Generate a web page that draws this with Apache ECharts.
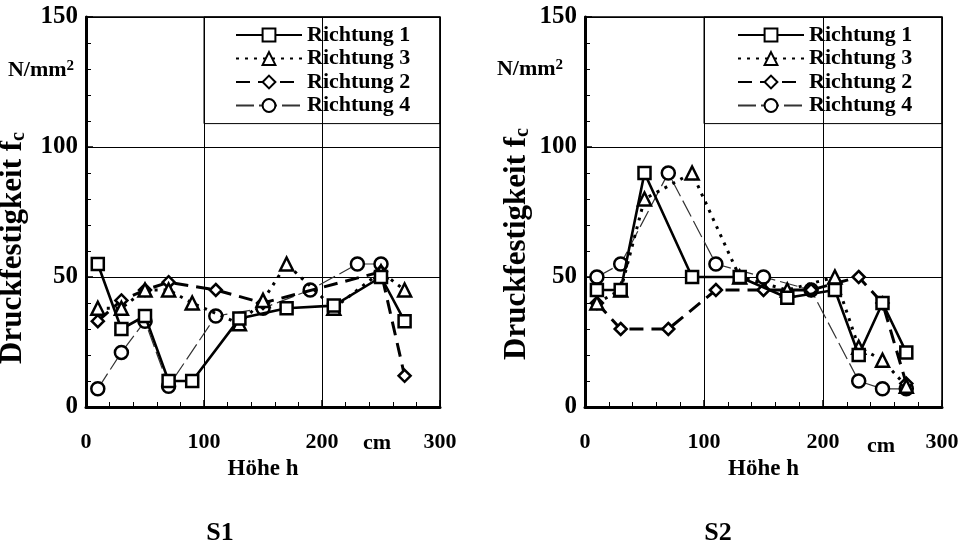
<!DOCTYPE html>
<html><head><meta charset="utf-8">
<script src="https://cdn.jsdelivr.net/npm/echarts@6/dist/echarts.min.js"></script>
<style>html,body{margin:0;padding:0;background:#fff}#c{width:967px;height:549px}</style>
</head><body><div id="c"></div>
<script>
// ---- data (S1) ----
const s1_r1_h = [10,30,50,70,90,130,170,210,250,270];
const s1_r1_v = [55,30,35,10,10,34,38,39,50,33];
const s1_r3_h = [10,30,50,70,90,130,150,170,210,250,270];
const s1_r3_v = [38,38,45,45,40,32,41,55,38,52,45];
const s1_r2_h = [10,30,50,70,110,150,250,270];
const s1_r2_v = [33,41,45,48,45,40,52,12];
const s1_r4_h = [10,30,50,70,110,150,190,230,250];
const s1_r4_v = [7,21,33,8,35,38,45,55,55];
// ---- data (S2) ----
const s2_r1_h = [10,30,50,90,130,170,210,230,250,270];
const s2_r1_v = [45,45,90,50,50,42,45,20,40,21];
const s2_r3_h = [10,30,50,90,130,170,210,230,250,270];
const s2_r3_v = [40,45,80,90,50,45,50,23,18,8];
const s2_r2_h = [10,30,70,110,150,190,230,250,270];
const s2_r2_v = [40,30,30,45,45,45,50,40,9];
const s2_r4_h = [10,30,70,110,150,190,230,250,270];
const s2_r4_v = [50,55,90,55,50,45,10,7,7];
const seriesNames = ['Richtung 1','Richtung 3','Richtung 2','Richtung 4'];
const xTicks = [0,100,200,300];
const yTicks = [0,50,100,150];
const legendBox = [100,109,300,150];

const zip = (h,v) => h.map((x,i)=>[x,v[i]]);
const FONT = 'Liberation Serif';
const styles = [
  {symbol:'rect', symbolSize:12, lineStyle:{type:'solid', width:2.6, color:'#000'}},
  {symbol:'triangle', symbolSize:13, lineStyle:{type:[3,6], width:3, color:'#000'}},
  {symbol:'diamond', symbolSize:12, lineStyle:{type:[14,8], width:3, color:'#000'}},
  {symbol:'circle', symbolSize:13, lineStyle:{type:[18,5], width:1.2, color:'#333'}}
];
function mkSeries(idx, sets){
  return sets.map((d,i)=>{
    const s = {
      name: seriesNames[i], type:'line', xAxisIndex:idx, yAxisIndex:idx,
      data: zip(d[0], d[1]), symbol: styles[i].symbol, symbolSize: styles[i].symbolSize,
      lineStyle: styles[i].lineStyle,
      itemStyle: {color:'#fff', borderColor:'#000', borderWidth:2.5},
      emphasis:{disabled:true}, animation:false, z: 5 - i
    };
    if(i===0){
      s.markArea = {silent:true, label:{show:false},
        itemStyle:{color:'rgba(0,0,0,0)', borderColor:'#000', borderWidth:1},
        data:[[{xAxis:legendBox[0], yAxis:legendBox[1]},{xAxis:legendBox[2], yAxis:legendBox[3]}]]};
    }
    return s;
  });
}
function xAx(idx){
  return {type:'value', gridIndex:idx, min:0, max:300, interval:100,
    axisLine:{show:true, lineStyle:{color:'#000', width:3}},
    axisTick:{show:true, inside:true, length:7, lineStyle:{color:'#000', width:1.5}},
    minorTick:{show:true, splitNumber:5, length:5, lineStyle:{color:'#000', width:1}},
    splitLine:{show:true, lineStyle:{color:'#000', width:1}},
    axisLabel:{color:'#000', fontFamily:FONT, fontWeight:'bold', fontSize:22, margin:24,
      formatter: v => xTicks.includes(v) ? String(v) : ''},
    name:'Höhe h', nameLocation:'middle', nameGap:50,
    nameTextStyle:{color:'#000', fontFamily:FONT, fontWeight:'bold', fontSize:23}
  };
}
function yAx(idx){
  return {type:'value', gridIndex:idx, min:0, max:150, interval:50,
    axisLine:{show:true, lineStyle:{color:'#000', width:3}},
    axisTick:{show:true, inside:true, length:7, lineStyle:{color:'#000', width:1.5}},
    minorTick:{show:true, splitNumber:5, length:5, lineStyle:{color:'#000', width:1}},
    splitLine:{show:true, lineStyle:{color:'#000', width:1}},
    axisLabel:{color:'#000', fontFamily:FONT, fontWeight:'bold', fontSize:25, margin:8,
      formatter: v => yTicks.includes(v) ? String(v) : ''}
  };
}
function txt(x,y,text,size,extra){
  return Object.assign({type:'text', x:x, y:y, silent:true,
    style:{text:text, fill:'#000', font:'bold '+size+'px "'+FONT+'"', align:'center', verticalAlign:'middle'}}, extra||{});
}
const richSup = {sup:{fontSize:15, fontWeight:'bold', fontFamily:FONT, verticalAlign:'top', fill:'#000'}};
function ylabel(x,y){
  return {type:'text', x:x, y:y, rotation:Math.PI/2, silent:true,
    style:{text:'Druckfestigkeit f{sub|c}', fill:'#000', font:'bold 31px "'+FONT+'"',
      align:'center', verticalAlign:'middle',
      rich:{sub:{fontSize:20, fontWeight:'bold', fontFamily:FONT, fill:'#000', verticalAlign:'bottom', padding:[8,0,0,0]}}}};
}
function supLabel(x,y){
  return {type:'text', x:x, y:y, silent:true,
    style:{text:'N/mm{sup|2}', fill:'#000', font:'bold 22px "'+FONT+'"', align:'center', verticalAlign:'middle', rich:richSup}};
}
function legendCfg(left){
  return {left:left, top:24, orient:'vertical', padding:0, itemGap:1.5, itemWidth:66, itemHeight:16,
    data:seriesNames, selectedMode:false,
    textStyle:{color:'#000', fontFamily:FONT, fontWeight:'bold', fontSize:22, lineHeight:22}};
}

const chart = echarts.init(document.getElementById('c'), null, {renderer:'canvas'});
chart.setOption({
  backgroundColor:'#fff',
  animation:false,
  grid:[
    {left:86, right:967-440, top:17, bottom:549-407, show:true, borderColor:'#000', borderWidth:1.5, backgroundColor:'transparent'},
    {left:585, right:967-942, top:17, bottom:549-407, show:true, borderColor:'#000', borderWidth:1.5, backgroundColor:'transparent'}
  ],
  xAxis:[xAx(0), xAx(1)],
  yAxis:[yAx(0), yAx(1)],
  legend:[legendCfg(235), legendCfg(737)],
  graphic:[
    supLabel(41,70), supLabel(530,69),
    ylabel(13,248), ylabel(517,244),
    txt(377,443,'cm',22), txt(881,446,'cm',22),
    txt(220,533,'S1',26), txt(718,533,'S2',26)
  ],
  series:[].concat(
    mkSeries(0, [[s1_r1_h,s1_r1_v],[s1_r3_h,s1_r3_v],[s1_r2_h,s1_r2_v],[s1_r4_h,s1_r4_v]]),
    mkSeries(1, [[s2_r1_h,s2_r1_v],[s2_r3_h,s2_r3_v],[s2_r2_h,s2_r2_v],[s2_r4_h,s2_r4_v]])
  )
});
</script></body></html>
